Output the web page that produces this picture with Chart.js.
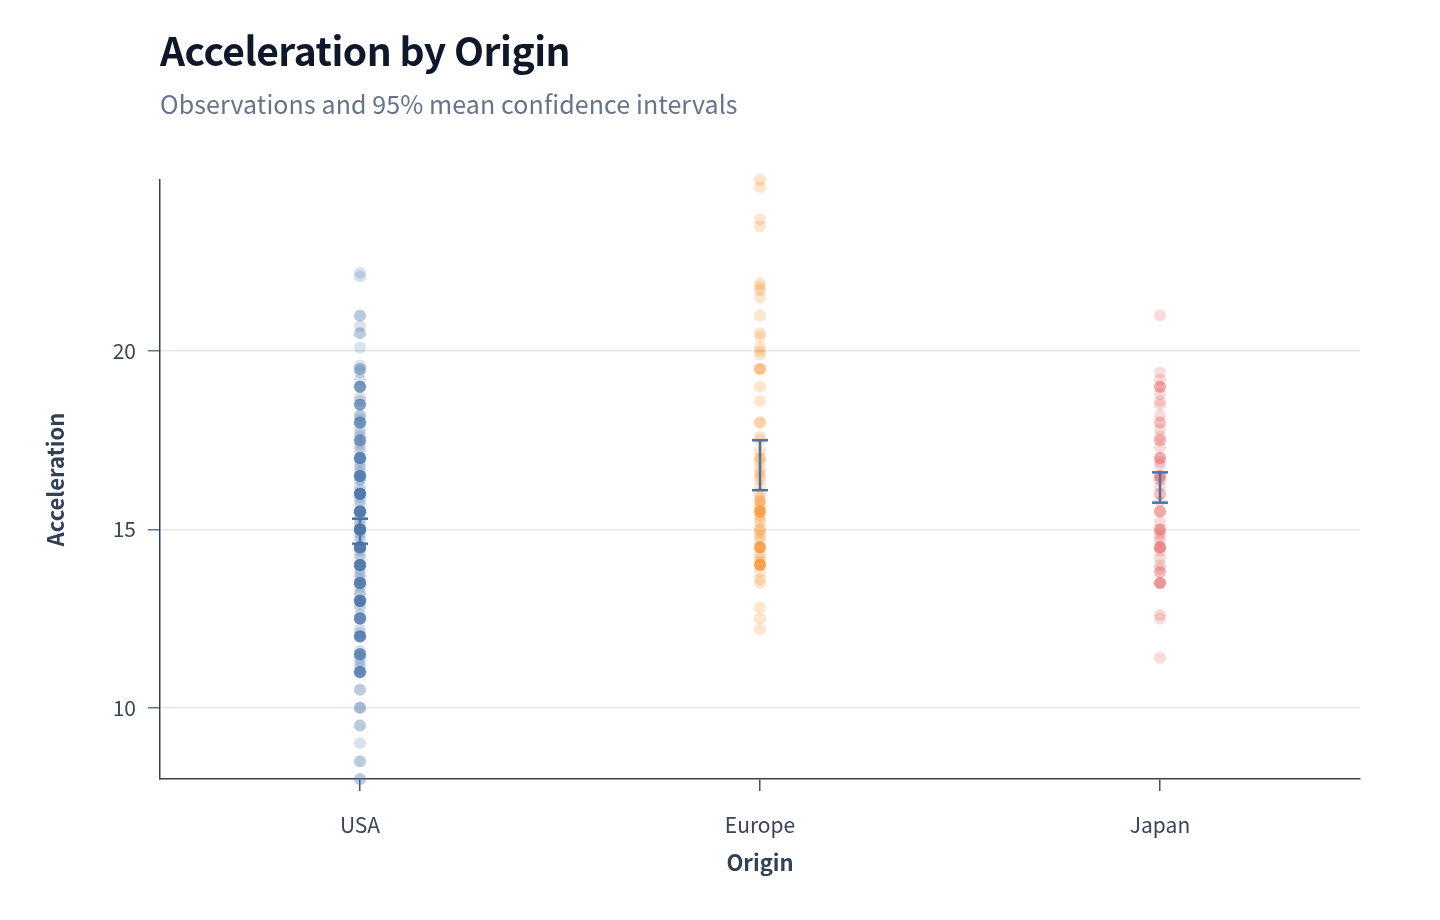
<!DOCTYPE html>
<html>
<head>
<meta charset="utf-8">
<script src="https://cdn.jsdelivr.net/npm/chart.js@4/dist/chart.umd.min.js"></script>
<style>
  body { margin: 0; background: #ffffff; }
  #wrap { position: relative; width: 1440px; height: 920px; font-family: "Noto Sans CJK KR", "Noto Sans", sans-serif; }
  #titre { position: absolute; left: 160px; top: 21px; font-size: 39px; font-weight: 700; color: #0f172a; line-height: 56px; letter-spacing: -0.5px; }
  #soustitre { position: absolute; left: 160px; top: 86px; font-size: 25px; color: #64748b; line-height: 34px; letter-spacing: 0.1px; }
  #zone { position: absolute; left: 0; top: 0; width: 1440px; height: 920px; }
</style>
</head>
<body>
<div id="wrap">
  <div id="zone"><canvas id="grafico"></canvas></div>
  <div id="titre">Acceleration by Origin</div>
  <div id="soustitre">Observations and 95% mean confidence intervals</div>
</div>
<script>
const categorias = ['USA', 'Europe', 'Japan'];
const colores = ['#4c78a8', '#f58518', '#e45756'];

const usa = [
  8.0, 8.0, 8.5, 8.5, 9.0, 9.5, 9.5, 10.0, 10.0, 10.0, 10.5, 10.5,
  11.0, 11.0, 11.0, 11.0, 11.0, 11.0, 11.0, 11.0, 11.1, 11.2, 11.3, 11.4,
  11.5, 11.5, 11.5, 11.5, 11.5, 11.5, 11.5, 11.6,
  12.0, 12.0, 12.0, 12.0, 12.0, 12.0, 12.0, 12.0, 12.0, 12.1, 12.2,
  12.5, 12.5, 12.5, 12.5, 12.5, 12.5, 12.5, 12.5, 12.6, 12.8, 12.9,
  13.0, 13.0, 13.0, 13.0, 13.0, 13.0, 13.0, 13.0, 13.0, 13.0, 13.0, 13.0, 13.2, 13.2, 13.4,
  13.5, 13.5, 13.5, 13.5, 13.5, 13.5, 13.5, 13.5, 13.5, 13.5, 13.6, 13.7, 13.8, 13.9,
  14.0, 14.0, 14.0, 14.0, 14.0, 14.0, 14.0, 14.0, 14.0, 14.0, 14.0, 14.0, 14.2, 14.3, 14.4,
  14.5, 14.5, 14.5, 14.5, 14.5, 14.5, 14.5, 14.5, 14.5, 14.5, 14.5, 14.5, 14.5, 14.5, 14.7, 14.8, 14.9,
  15.0, 15.0, 15.0, 15.0, 15.0, 15.0, 15.0, 15.0, 15.0, 15.0, 15.0, 15.0, 15.0, 15.0, 15.1, 15.2, 15.3, 15.4,
  15.5, 15.5, 15.5, 15.5, 15.5, 15.5, 15.5, 15.5, 15.5, 15.5, 15.5, 15.5, 15.7, 15.8, 15.9,
  16.0, 16.0, 16.0, 16.0, 16.0, 16.0, 16.0, 16.0, 16.0, 16.0, 16.0, 16.0, 16.1, 16.2, 16.4, 16.4,
  16.5, 16.5, 16.5, 16.5, 16.5, 16.5, 16.5, 16.5, 16.5, 16.6, 16.7, 16.8, 16.9,
  17.0, 17.0, 17.0, 17.0, 17.0, 17.0, 17.0, 17.0, 17.0, 17.2, 17.3, 17.4,
  17.5, 17.5, 17.5, 17.5, 17.5, 17.6, 17.7, 17.8,
  18.0, 18.0, 18.0, 18.0, 18.0, 18.0, 18.1, 18.2, 18.2,
  18.5, 18.5, 18.5, 18.5, 18.5, 18.6, 18.7,
  19.0, 19.0, 19.0, 19.0, 19.0, 19.0, 19.2, 19.4,
  19.5, 19.5, 19.5, 19.6,
  20.1, 20.5, 20.5, 20.7, 21.0, 21.0, 22.1, 22.2
];

const europe = [
  12.2, 12.5, 12.8, 13.5, 13.6, 13.8,
  14.0, 14.0, 14.0, 14.0, 14.0, 14.1, 14.2, 14.3,
  14.5, 14.5, 14.5, 14.5, 14.5, 14.7, 14.8, 14.9, 15.0, 15.0,
  15.2, 15.3, 15.4, 15.5, 15.5, 15.5, 15.5, 15.6, 15.7, 15.8, 15.8, 15.9, 16.0,
  16.2, 16.4, 16.5, 16.6, 16.7, 16.9, 17.0, 17.0, 17.2, 17.5, 17.6,
  18.0, 18.0, 18.6, 19.0, 19.5, 19.5, 19.5, 19.9, 20.0, 20.1, 20.4, 20.5,
  21.0, 21.5, 21.7, 21.8, 21.9, 23.5, 23.7, 24.6, 24.8
];

const japan = [
  11.4, 12.5, 12.6,
  13.5, 13.5, 13.5, 13.5, 13.8, 13.8, 13.9, 14.0, 14.2, 14.4,
  14.5, 14.5, 14.5, 14.5, 14.7, 14.8, 14.9, 15.0, 15.0, 15.0, 15.2,
  15.5, 15.5, 15.5, 15.8, 16.0, 16.0, 16.2, 16.4, 16.4,
  16.5, 16.5, 16.5, 16.8, 16.9, 17.0, 17.0, 17.0, 17.3,
  17.5, 17.5, 17.6, 17.8, 18.0, 18.0, 18.2, 18.5, 18.6, 18.8,
  19.0, 19.0, 19.0, 19.2, 19.4, 21.0
];

const ciBajo = [14.6, 16.1, 15.75];
const ciAlto = [15.3, 17.5, 16.6];
const marcasY = [10, 15, 20];

const series = [usa, europe, japan];

const datasets = [];
series.forEach((valores, i) => {
  datasets.push({
    type: 'scatter',
    label: categorias[i],
    data: valores.map(v => ({ x: categorias[i], y: v })),
    backgroundColor: colores[i] + '36',
    borderWidth: 0,
    pointRadius: 6,
    pointHoverRadius: 6,
    clip: false,
    order: 2
  });
});
categorias.forEach((c, i) => {
  datasets.push({
    type: 'line',
    label: 'IC ' + c,
    data: [{ x: c, y: ciBajo[i] }, { x: c, y: ciAlto[i] }],
    borderColor: '#4a74a6',
    borderWidth: 2.5,
    pointStyle: 'line',
    pointRadius: 8,
    pointBorderWidth: 2.5,
    pointBorderColor: '#4a74a6',
    fill: false,
    clip: false,
    order: 1
  });
});

const fuente = '"Noto Sans CJK KR", "Noto Sans", sans-serif';
const oscuro = '#334155';

const ctx = document.getElementById('grafico');
const myChart = new Chart(ctx, {
  type: 'scatter',
  data: { datasets: datasets },
  options: {
    responsive: true,
    maintainAspectRatio: false,
    devicePixelRatio: 1,
    animation: false,
    layout: { padding: { top: 180, right: 80, bottom: 40, left: 38 } },
    plugins: {
      legend: { display: false },
      tooltip: { enabled: false }
    },
    scales: {
      x: {
        type: 'category',
        labels: categorias,
        offset: true,
        afterFit: s => { s.height = 101; },
        grid: { display: true, drawOnChartArea: false, tickLength: 12, tickColor: '#475569', lineWidth: 1.5 },
        border: { color: oscuro, width: 1.5 },
        ticks: { color: '#3b4556', font: { family: fuente, size: 21 }, padding: 21 },
        title: { display: true, text: 'Origin', color: oscuro, font: { family: fuente, size: 22, weight: '600' }, padding: { top: 9 } }
      },
      y: {
        min: 8,
        max: 24.8,
        afterFit: s => { s.width = 122; },
        afterBuildTicks: s => { s.ticks = marcasY.map(v => ({ value: v })); },
        grid: { color: '#e2e8f0', lineWidth: 1.5, tickLength: 12, tickColor: '#64748b' },
        border: { color: oscuro, width: 1.5 },
        ticks: { color: '#3b4556', font: { family: fuente, size: 21 }, padding: 12 },
        title: { display: true, text: 'Acceleration', color: oscuro, font: { family: fuente, size: 22, weight: '600' } }
      }
    }
  }
});
</script>
</body>
</html>
